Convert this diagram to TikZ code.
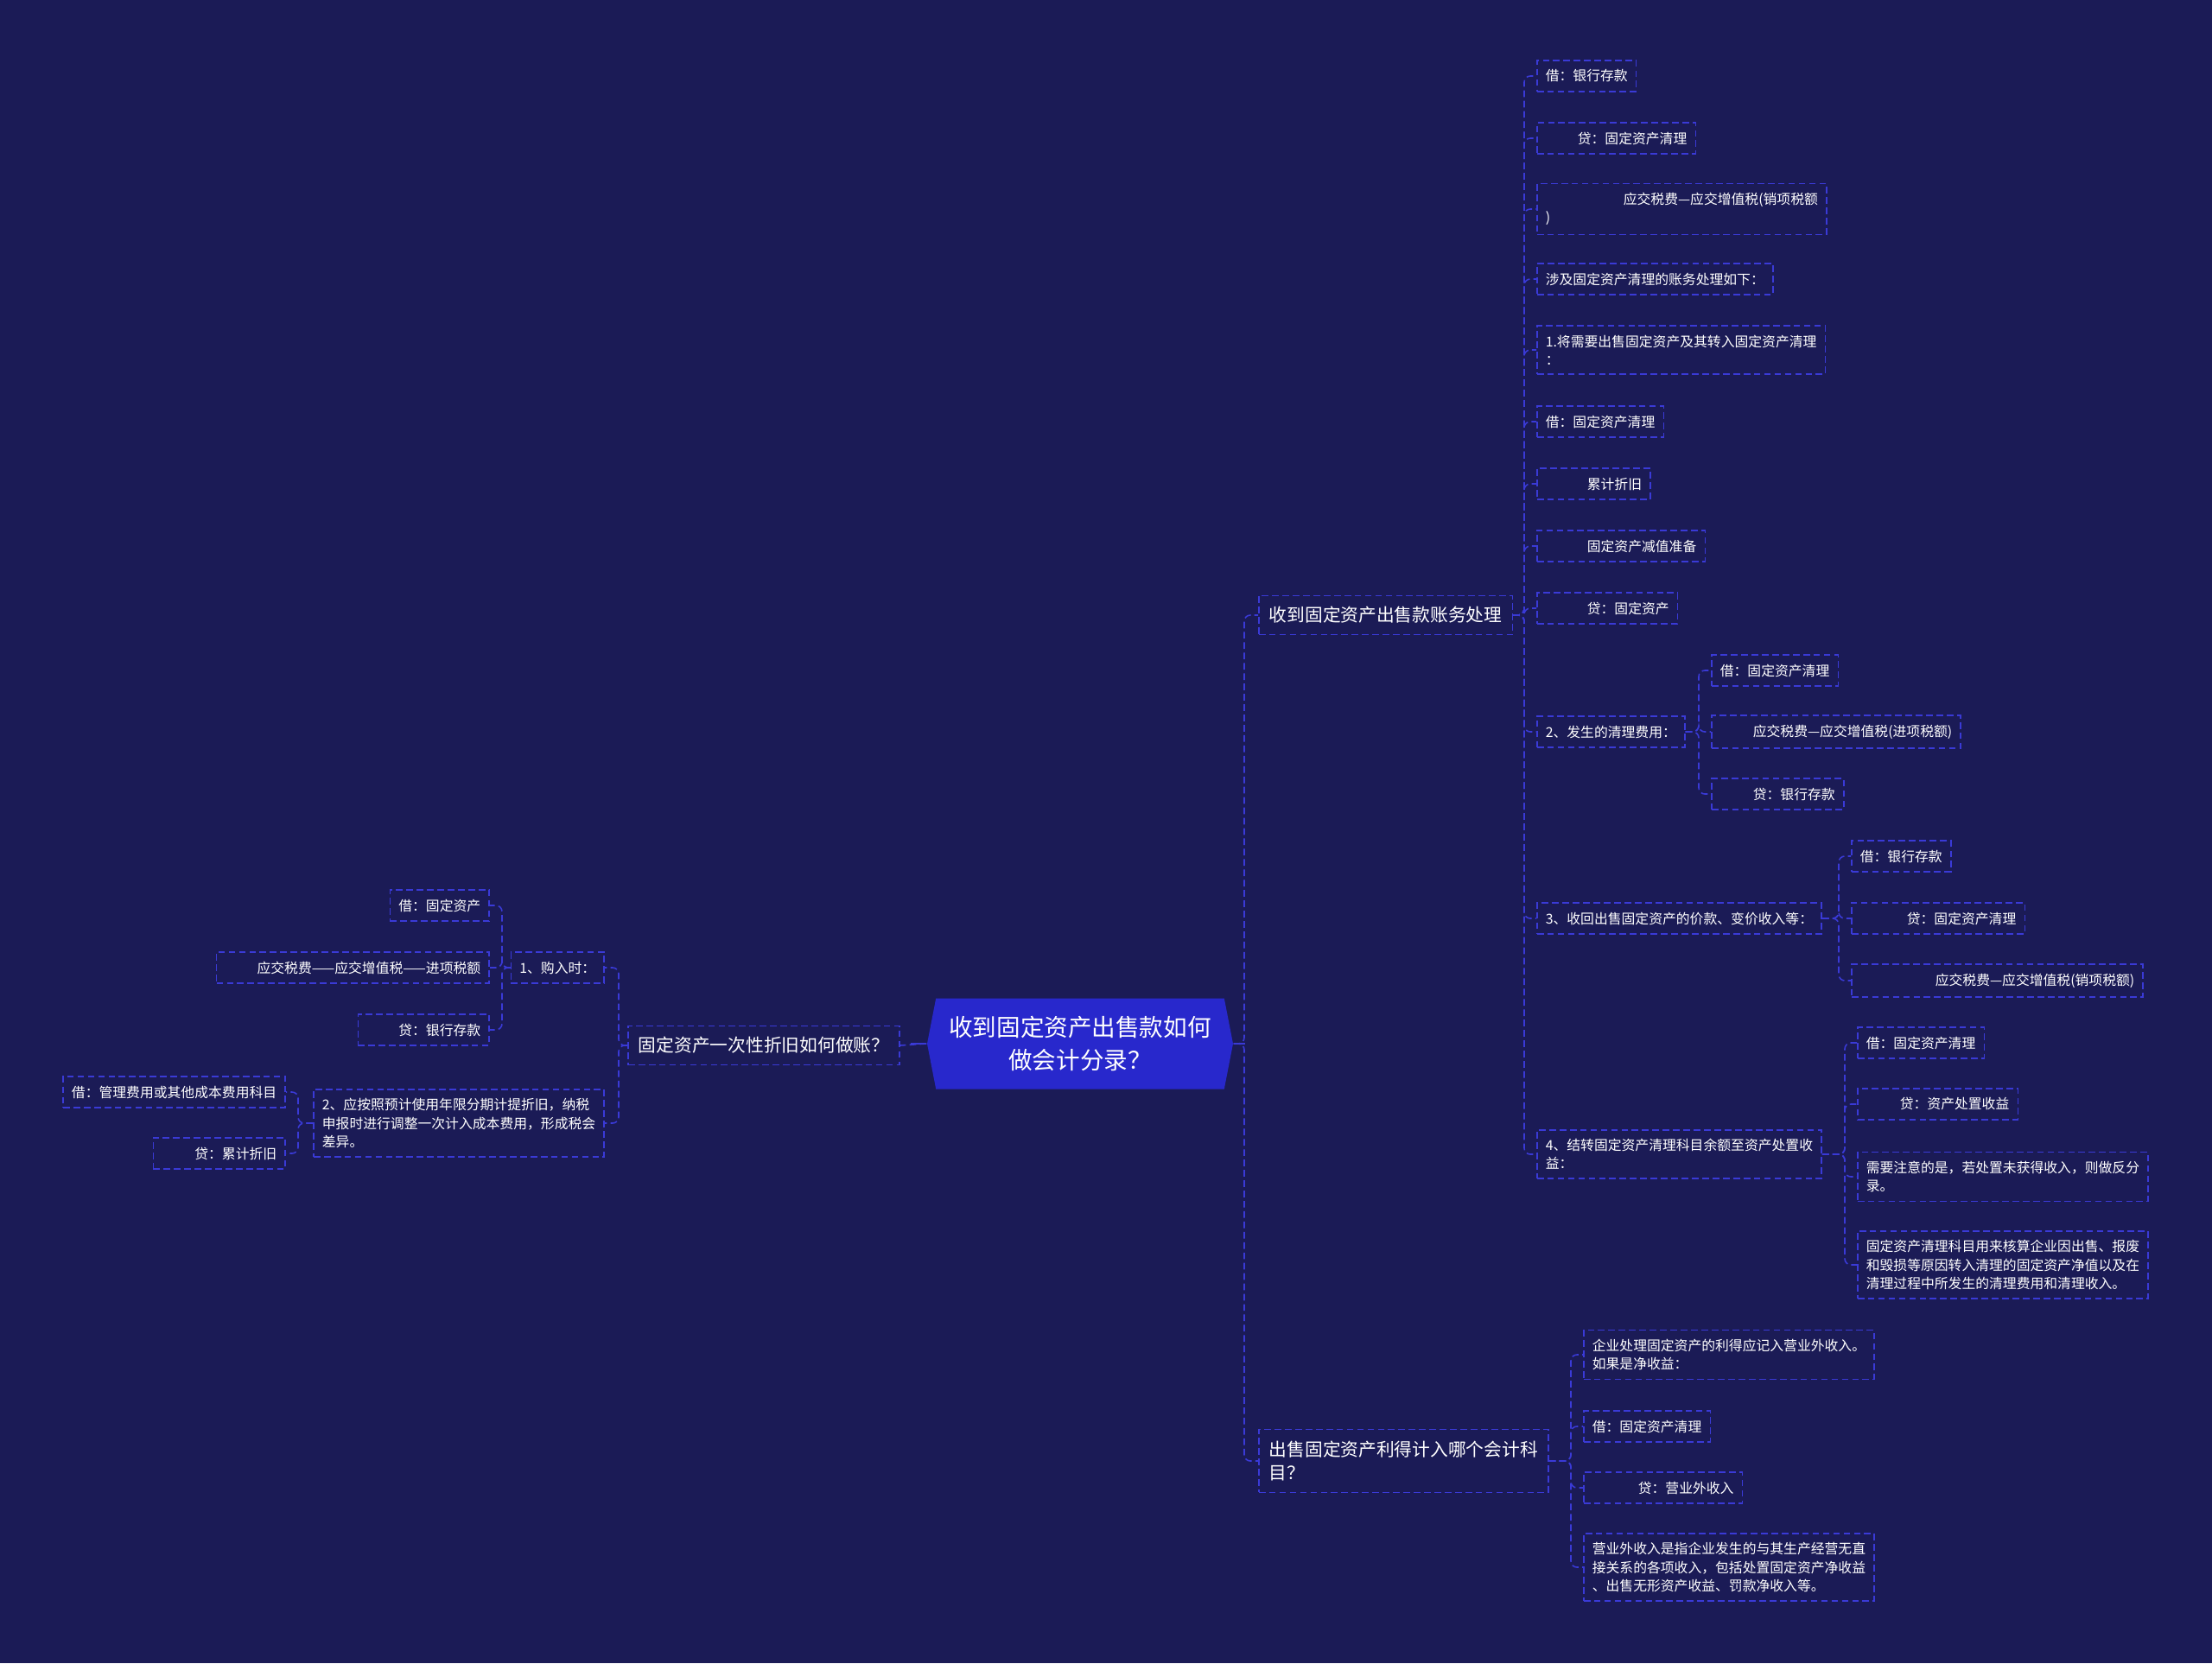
\documentclass[tikz,border=0pt]{standalone}
\usepackage{fontspec}
\setmainfont{Noto Sans CJK SC}
\usetikzlibrary{shapes.symbols}

\definecolor{bgc}{RGB}{27,27,86}
\definecolor{linec}{RGB}{58,58,214}
\definecolor{rootc}{RGB}{40,40,204}

\begin{document}
\begin{tikzpicture}[
        every node/.style={text=white},
        root/.style={
            shape=signal,
            signal to=west and east,
            signal pointer angle=158,
            fill=rootc,
            align=center,
            font=\fontsize{7.85}{10.7}\selectfont,
            minimum width=3.54cm,
            minimum height=1.05cm,
            inner xsep=0.15cm
        },
        topic/.style={
            draw=linec,
            dash pattern=on 2.2pt off 1.2pt,
            line width=0.45pt,
            align=left,
            font=\fontsize{5.9}{7.9}\selectfont,
            inner xsep=0.12cm,
            inner ysep=0.13cm
        },
        leaf/.style={
            topic,
            font=\fontsize{4.5}{6}\selectfont,
            inner xsep=0.1cm,
            inner ysep=0.105cm
        },
        link/.style={draw=linec, dash pattern=on 2.2pt off 1.2pt, line width=0.45pt, rounded corners=2pt},
        rootstub/.style={draw=linec, line width=0.8pt}
    ]

    % Background
    \fill[bgc] (0,0) rectangle (25.6,-19.25);

    % Root
    \node[root] (root) at (12.50,-12.08) {收到固定资产出售款如何\\做会计分录？};

    % Main topics
    \node[topic, anchor=west] (acct) at (14.56,-7.12) {收到固定资产出售款账务处理};
    \node[topic, anchor=west] (gain) at (14.56,-16.91) {出售固定资产利得计入哪个会计科\\目？};
    \node[topic, anchor=east] (depr) at (10.42,-12.10) {固定资产一次性折旧如何做账？};

    % Entries for the sale
    \node[leaf, anchor=west] (a1) at (17.78,-0.88) {借：银行存款};
    \node[leaf, anchor=west] (a2) at (17.78,-1.60) {\hspace*{0.37cm}贷：固定资产清理};
    \node[leaf, anchor=west] (a3) at (17.78,-2.42) {\hspace*{0.9cm}应交税费—应交增值税(销项税额\\)};
    \node[leaf, anchor=west] (a4) at (17.78,-3.23) {涉及固定资产清理的账务处理如下：};
    \node[leaf, anchor=west] (a5) at (17.78,-4.05) {1.将需要出售固定资产及其转入固定资产清理\\：};
    \node[leaf, anchor=west] (a6) at (17.78,-4.88) {借：固定资产清理};
    \node[leaf, anchor=west] (a7) at (17.78,-5.60) {\hspace*{0.48cm}累计折旧};
    \node[leaf, anchor=west] (a8) at (17.78,-6.32) {\hspace*{0.48cm}固定资产减值准备};
    \node[leaf, anchor=west] (a9) at (17.78,-7.04) {\hspace*{0.48cm}贷：固定资产};
    \node[leaf, anchor=west] (a10) at (17.78,-8.47) {2、发生的清理费用：};
    \node[leaf, anchor=west] (a11) at (17.78,-10.63) {3、收回出售固定资产的价款、变价收入等：};
    \node[leaf, anchor=west] (a12) at (17.78,-13.36) {4、结转固定资产清理科目余额至资产处置收\\益：};

    % Clearing costs
    \node[leaf, anchor=west] (b1) at (19.80,-7.76) {借：固定资产清理};
    \node[leaf, anchor=west] (b2) at (19.80,-8.47) {\hspace*{0.38cm}应交税费—应交增值税(进项税额)};
    \node[leaf, anchor=west] (b3) at (19.80,-9.19) {\hspace*{0.38cm}贷：银行存款};

    % Sale proceeds
    \node[leaf, anchor=west] (c1) at (21.42,-9.91) {借：银行存款};
    \node[leaf, anchor=west] (c2) at (21.42,-10.63) {\hspace*{0.54cm}贷：固定资产清理};
    \node[leaf, anchor=west] (c3) at (21.42,-11.35) {\hspace*{0.87cm}应交税费—应交增值税(销项税额)};

    % Closing the clearing account
    \node[leaf, anchor=west] (d1) at (21.49,-12.07) {借：固定资产清理};
    \node[leaf, anchor=west] (d2) at (21.49,-12.78) {\hspace*{0.39cm}贷：资产处置收益};
    \node[leaf, anchor=west] (d3) at (21.49,-13.62) {需要注意的是，若处置未获得收入，则做反分\\录。};
    \node[leaf, anchor=west] (d4) at (21.49,-14.64) {固定资产清理科目用来核算企业因出售、报废\\和毁损等原因转入清理的固定资产净值以及在\\清理过程中所发生的清理费用和清理收入。};

    % Gain on sale
    \node[leaf, anchor=west] (e1) at (18.32,-15.68) {企业处理固定资产的利得应记入营业外收入。\\如果是净收益：};
    \node[leaf, anchor=west] (e2) at (18.32,-16.51) {借：固定资产清理};
    \node[leaf, anchor=west] (e3) at (18.32,-17.22) {\hspace*{0.53cm}贷：营业外收入};
    \node[leaf, anchor=west] (e4) at (18.32,-18.14) {营业外收入是指企业发生的与其生产经营无直\\接关系的各项收入，包括处置固定资产净收益\\、出售无形资产收益、罚款净收入等。};

    % One-off depreciation
    \node[leaf, anchor=east] (f1) at (7.00,-11.20) {1、购入时：};
    \node[leaf, anchor=east] (f2) at (7.00,-13.00) {2、应按照预计使用年限分期计提折旧，纳税\\申报时进行调整一次计入成本费用，形成税会\\差异。};
    \node[leaf, anchor=east] (g1) at (5.67,-10.48) {借：固定资产};
    \node[leaf, anchor=east] (g2) at (5.67,-11.20) {\hspace*{0.37cm}应交税费——应交增值税——进项税额};
    \node[leaf, anchor=east] (g3) at (5.67,-11.92) {\hspace*{0.37cm}贷：银行存款};
    \node[leaf, anchor=east] (h1) at (3.31,-12.64) {借：管理费用或其他成本费用科目};
    \node[leaf, anchor=east] (h2) at (3.31,-13.35) {\hspace*{0.38cm}贷：累计折旧};

    % Root links
    \draw[link] (root.east) -| ([xshift=-0.16cm]acct.west) -- (acct.west);
    \draw[link] (root.east) -| ([xshift=-0.16cm]gain.west) -- (gain.west);
    \draw[link] (root.west) -- (depr.east);
    \draw[rootstub] (root.east) -- ++(0.13,0);
    \draw[rootstub] (root.west) -- ++(-0.18,0);

    % Links of the sale entries
    \draw[link] (acct.east) -| ([xshift=-0.14cm]a1.west) -- (a1.west);
    \draw[link] (acct.east) -| ([xshift=-0.14cm]a2.west) -- (a2.west);
    \draw[link] (acct.east) -| ([xshift=-0.14cm]a3.west) -- (a3.west);
    \draw[link] (acct.east) -| ([xshift=-0.14cm]a4.west) -- (a4.west);
    \draw[link] (acct.east) -| ([xshift=-0.14cm]a5.west) -- (a5.west);
    \draw[link] (acct.east) -| ([xshift=-0.14cm]a6.west) -- (a6.west);
    \draw[link] (acct.east) -| ([xshift=-0.14cm]a7.west) -- (a7.west);
    \draw[link] (acct.east) -| ([xshift=-0.14cm]a8.west) -- (a8.west);
    \draw[link] (acct.east) -| ([xshift=-0.14cm]a9.west) -- (a9.west);
    \draw[link] (acct.east) -| ([xshift=-0.14cm]a10.west) -- (a10.west);
    \draw[link] (acct.east) -| ([xshift=-0.14cm]a11.west) -- (a11.west);
    \draw[link] (acct.east) -| ([xshift=-0.14cm]a12.west) -- (a12.west);

    \draw[link] (a10.east) -| ([xshift=-0.14cm]b1.west) -- (b1.west);
    \draw[link] (a10.east) -| ([xshift=-0.14cm]b2.west) -- (b2.west);
    \draw[link] (a10.east) -| ([xshift=-0.14cm]b3.west) -- (b3.west);

    \draw[link] (a11.east) -| ([xshift=-0.14cm]c1.west) -- (c1.west);
    \draw[link] (a11.east) -| ([xshift=-0.14cm]c2.west) -- (c2.west);
    \draw[link] (a11.east) -| ([xshift=-0.14cm]c3.west) -- (c3.west);

    \draw[link] (a12.east) -| ([xshift=-0.14cm]d1.west) -- (d1.west);
    \draw[link] (a12.east) -| ([xshift=-0.14cm]d2.west) -- (d2.west);
    \draw[link] (a12.east) -| ([xshift=-0.14cm]d3.west) -- (d3.west);
    \draw[link] (a12.east) -| ([xshift=-0.14cm]d4.west) -- (d4.west);

    % Links of the gain entries
    \draw[link] (gain.east) -| ([xshift=-0.14cm]e1.west) -- (e1.west);
    \draw[link] (gain.east) -| ([xshift=-0.14cm]e2.west) -- (e2.west);
    \draw[link] (gain.east) -| ([xshift=-0.14cm]e3.west) -- (e3.west);
    \draw[link] (gain.east) -| ([xshift=-0.14cm]e4.west) -- (e4.west);

    % Links of the depreciation entries
    \draw[link] (depr.west) -| ([xshift=0.16cm]f1.east) -- (f1.east);
    \draw[link] (depr.west) -| ([xshift=0.16cm]f2.east) -- (f2.east);
    \draw[link] (f1.west) -| ([xshift=0.14cm]g1.east) -- (g1.east);
    \draw[link] (f1.west) -| ([xshift=0.14cm]g2.east) -- (g2.east);
    \draw[link] (f1.west) -| ([xshift=0.14cm]g3.east) -- (g3.east);
    \draw[link] (f2.west) -| ([xshift=0.14cm]h1.east) -- (h1.east);
    \draw[link] (f2.west) -| ([xshift=0.14cm]h2.east) -- (h2.east);

    \end{tikzpicture}
\end{document}
